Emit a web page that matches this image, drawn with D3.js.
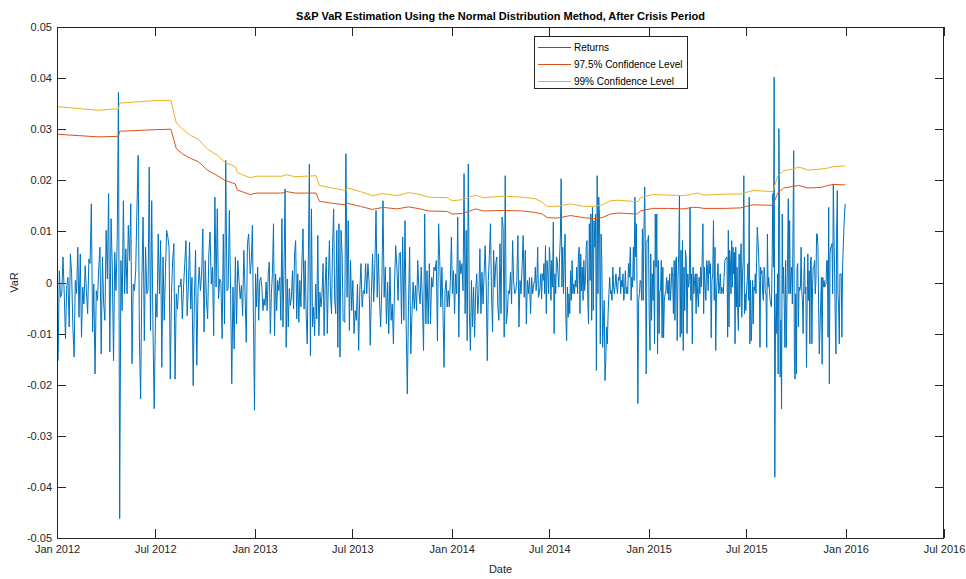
<!DOCTYPE html>
<html>
<head>
<meta charset="utf-8">
<script src="https://cdn.jsdelivr.net/npm/d3@7"></script>
<style>
    body { margin: 0; background: #fff; }
    svg { display: block; font-family: "Liberation Sans", Arial, Helvetica, sans-serif; }
    .tick text { font-size: 11px; fill: #262626; }
    .tick line { stroke: #262626; }
</style>
</head>
<body>
<div id="chart"></div>
<script>
// daily returns in runs; each run is spread over its span of dates
var returnSpans = [
    ['2012-01-03', '2012-06-29'],
    ['2012-07-02', '2012-12-21'],
    ['2012-12-24', '2013-06-14'],
    ['2013-06-17', '2013-12-10'],
    ['2013-12-12', '2014-06-04'],
    ['2014-06-05', '2014-11-26'],
    ['2014-11-28', '2015-05-22'],
    ['2015-05-26', '2015-11-13'],
    ['2015-11-17', '2015-12-31']
];
var returns2012a = [-.0153, .0023, -.0029, -.0022, .0050, -.0022, -.0110, -.0009, .0010, -.0087, .0056, .0017, -.0087, -.0146, .0004, -.0022, .0069, -.0068, .0056, -.0107, -.0009, -.0042, .0033, -.0016, -.0061, .0046, .0037, .0154, -.0097, -.0003, -.0179, -.0016, -.0035, .0030, .0069, -.0140, .0050, -.0042, -.0074, .0102, .0007, .0174, -.0136, .0125, .0030, -.0153, .0059, -.0016, .0082, .0372, -.0462, .0043, -.0055, .0160, -.0022, .0066, -.0022, .0112, .0043, .0154, -.0159, -.0003, -.0016, .0023, .0144, .0249, -.0107, -.0228, .0004, .0128, -.0114, .0069, -.0022, -.0016, .0226, -.0094, .0160, -.0087, -.0247];
var returns2012b = [-.0022, -.0068, .0095, -.0022, .0082, -.0166, .0050, -.0074, .0023, .0102, .0089, .0069, -.0189, -.0022, .0043, .0076, -.0189, -.0022, -.0052, -.0006, -.0009, .0007, -.0071, -.0009, .0037, .0082, -.0065, -.0009, .0079, -.0052, .0010, -.0202, -.0029, .0063, -.0162, -.0016, .0030, -.0016, .0017, .0105, -.0097, .0043, -.0035, -.0071, .0056, .0099, -.0003, .0030, -.0104, .0167, -.0009, .0144, -.0032, .0007, .0001, -.0110, .0095, -.0081, .0239, -.0016, -.0012, .0141, -.0016, -.0198, -.0009, -.0130, .0050, -.0081, .0043, .0004, -.0032, -.0006, -.0065, .0063, -.0019, -.0117, .0076, .0095];
var returns2013a = [.0017, .0043, .0112, -.0074, -.0250, .0017, -.0048, .0030, -.0074, .0004, .0010, -.0009, -.0055, -.0032, -.0045, .0001, -.0055, .0017, .0040, -.0100, -.0022, .0017, .0115, -.0104, .0017, -.0055, .0004, -.0016, .0010, -.0074, .0125, -.0087, .0030, .0183, -.0127, .0007, -.0087, -.0012, -.0045, -.0029, .0023, -.0052, .0056, .0082, -.0071, .0017, -.0078, .0004, -.0048, .0043, .0105, -.0052, .0043, -.0065, -.0120, .0043, .0232, -.0143, .0144, -.0087, -.0048, -.0104, -.0003, -.0071, .0092, -.0104, -.0019, -.0048, -.0022, .0037, -.0104, -.0003, .0050, -.0100, .0004, .0082, -.0022, -.0061, .0069, .0144, -.0035, -.0061, .0102, -.0127, .0115, -.0146, .0102, .0056, -.0074];
var returns2013b = [-.0078, .0252, -.0029, .0121, -.0094, .0043, -.0055, .0004, -.0100, -.0055, -.0074, -.0003, -.0133, -.0016, .0037, -.0048, -.0016, -.0022, .0037, -.0022, .0037, .0001, -.0123, -.0022, .0056, -.0038, .0037, .0141, -.0029, .0056, -.0035, -.0087, -.0009, .0160, -.0029, .0030, -.0081, .0001, -.0100, .0030, -.0074, -.0042, -.0120, .0001, .0072, .0030, -.0035, .0056, .0059, -.0081, .0089, -.0074, .0121, -.0081, -.0218, -.0045, .0069, -.0140, -.0061, .0001, -.0052, -.0006, -.0055, .0043, -.0016, -.0042, .0030, -.0035, -.0133, .0134, -.0081, .0023, -.0081, .0037, -.0081, .0010, -.0009, .0030, .0023, .0043, -.0114, .0115, .0043];
var returns2014a = [-.0048, .0030, -.0055, -.0166, -.0016, .0004, -.0048, -.0016, -.0048, .0004, .0089, -.0022, .0023, -.0061, .0017, -.0022, .0128, -.0107, .0043, .0017, .0037, -.0016, .0213, -.0061, .0102, -.0114, .0232, -.0055, -.0133, .0004, -.0087, -.0009, -.0107, -.0016, .0017, -.0061, -.0022, .0066, -.0061, .0020, -.0042, .0017, .0072, -.0003, -.0153, .0004, .0053, .0115, -.0022, -.0097, .0063, -.0009, .0037, .0050, -.0048, -.0074, .0076, -.0061, .0128, .0108, -.0107, .0209, -.0081, -.0061, -.0016, -.0022, .0020, -.0042, .0082, .0001, -.0022, -.0016, .0004, .0092, -.0087, .0004, -.0022, .0030, .0092, -.0029, .0063, -.0081, .0004, -.0022, .0010, -.0061, .0010, -.0022, -.0003, .0004];
var returns2014b = [.0030, -.0016, .0004, .0069, -.0029, -.0022, -.0009, .0017, -.0032, .0017, .0004, .0037, -.0022, .0072, -.0061, .0043, .0017, -.0022, .0069, .0037, -.0035, .0043, -.0009, .0118, -.0100, .0017, -.0022, .0050, .0043, .0017, -.0009, .0050, .0089, .0203, -.0009, .0069, -.0022, .0050, .0095, -.0068, -.0114, -.0009, -.0068, -.0022, -.0061, .0023, -.0035, .0043, -.0022, -.0003, -.0022, .0004, -.0009, .0030, -.0022, .0050, .0069, -.0061, .0056, -.0016, .0030, -.0035, .0043, -.0016, .0004, .0069, .0082, -.0035, -.0081, .0115, .0004, .0134, -.0074, .0147, -.0055, .0121, .0069, .0134, -.0172, .0209, -.0022, .0167, .0128, -.0120, .0095, .0037, -.0127, -.0074, -.0035, -.0192, -.0153, -.0087, -.0120, -.0061, -.0022, .0010, -.0022, -.0016, -.0035, .0030, -.0009, -.0022, -.0003, .0017, -.0009, -.0022, .0010, .0004, .0030, -.0022, .0004, -.0009, .0017, -.0035, -.0016, .0023, -.0022, -.0009, -.0022, .0037, .0010];
var returns2015a = [.0069, -.0035, .0010, -.0009, .0069, .0004, .0167, .0050, .0115, -.0022, -.0237, -.0035, -.0022, .0004, .0001, -.0035, .0105, -.0035, .0102, .0187, .0043, -.0179, .0082, .0082, .0092, -.0068, -.0133, .0056, -.0074, .0017, -.0035, .0043, -.0120, .0134, .0030, .0134, -.0140, .0043, -.0100, -.0016, -.0016, .0043, -.0108, .0030, -.0108, -.0035, -.0022, -.0016, .0010, -.0022, .0004, -.0035, .0017, -.0035, -.0009, .0030, .0010, -.0061, .0043, -.0074, .0043, .0050, -.0114, .0004, .0059, .0170, -.0107, .0063, -.0100, .0082, -.0133, .0030, -.0055, .0063, .0043, -.0100, .0017, -.0009, .0004, .0147, -.0035, .0017, -.0120, .0030, -.0022, .0004, .0017, -.0061, .0017, -.0022, -.0048, .0010, -.0022, .0030, -.0009, .0043, .0115, -.0061, .0030, -.0009, -.0035, .0043, .0030, -.0016, .0043, .0017, .0037, -.0108, .0004, .0017, .0121, -.0035, .0069, -.0133, -.0022, .0010, .0037, -.0022, -.0009, .0017, -.0022, -.0009, -.0016, -.0022, .0010, .0043];
var returns2015b = [.0050, -.0107, .0102, -.0087, .0063, .0043, -.0022, .0082, -.0009, .0069, .0017, .0059, -.0120, .0069, -.0048, .0030, -.0061, -.0094, .0056, -.0048, .0043, .0076, -.0068, .0010, .0043, .0209, -.0061, -.0022, -.0055, -.0016, .0004, .0037, -.0035, .0167, -.0120, .0004, -.0114, -.0074, .0004, -.0081, -.0009, -.0016, .0017, -.0022, .0043, .0108, .0082, .0056, .0004, -.0127, .0030, .0017, .0023, -.0022, -.0035, .0030, .0017, -.0022, -.0022, -.0127, .0095, -.0009, .0010, -.0016, -.0035, -.0042, -.0048, .0043, .0174, .0030, .0402, -.0381, -.0087, -.0022, -.0100, .0017, -.0179, .0301, .0154, -.0185, -.0074, -.0247, .0134, -.0022, .0030, -.0048, -.0127, .0043, -.0127, -.0042, .0063, .0164, -.0022, .0121, -.0022, .0017, .0030, -.0042, .0102, .0258, -.0140, -.0189, -.0022, -.0179, .0030, .0037, -.0087, -.0009, -.0016, -.0009, .0069, -.0016, -.0035, -.0100, .0004, .0050, -.0022, -.0009, -.0166, -.0048, .0056, -.0035, .0023, -.0120, .0043, .0050, -.0120, -.0009, .0030, .0030, .0043, -.0022, .0004, .0095, .0095, .0069, -.0048, -.0140];
var returns2015c = [.0010, -.0160, .0010, -.0009, .0004, -.0009, -.0003, -.0003, .0043, .0043, -.0107, .0147, -.0198, .0056, .0069, .0069, .0076, -.0022, .0193, .0095, .0017, -.0081, -.0140, .0095, .0180, -.0022, -.0048, -.0120, .0017, .0017, .0017, -.0107, .0030, .0069, .0108, .0134, .0154];
var returnRuns = [returns2012a, returns2012b, returns2013a, returns2013b, returns2014a, returns2014b, returns2015a, returns2015b, returns2015c];

// VaR estimates at the points where the lines bend
var varDates = ['2012-01-03', '2012-03-17', '2012-04-24', '2012-04-26', '2012-07-01', '2012-07-30', '2012-08-09', '2012-08-20', '2012-09-04', '2012-09-18', '2012-10-07', '2012-10-24', '2012-11-07', '2012-11-26', '2012-11-30', '2012-12-24', '2013-01-04', '2013-02-21', '2013-03-01', '2013-03-17', '2013-04-25', '2013-05-01', '2013-05-25', '2013-06-18', '2013-06-22', '2013-07-16', '2013-08-07', '2013-08-27', '2013-09-22', '2013-10-13', '2013-11-04', '2013-11-19', '2013-12-24', '2014-01-02', '2014-01-21', '2014-02-14', '2014-03-01', '2014-04-05', '2014-05-12', '2014-06-05', '2014-06-18', '2014-06-27', '2014-07-16', '2014-08-09', '2014-09-02', '2014-09-21', '2014-10-07', '2014-10-22', '2014-11-06', '2014-12-11', '2014-12-17', '2015-01-08', '2015-02-07', '2015-03-07', '2015-03-23', '2015-04-02', '2015-04-13', '2015-05-23', '2015-06-20', '2015-07-13', '2015-08-19', '2015-08-28', '2015-09-08', '2015-09-25', '2015-10-06', '2015-10-23', '2015-11-16', '2015-11-29', '2015-12-10', '2015-12-28', '2015-12-31'];
var var975 = [.0290, .0285, .0286, .0296, .0299, .0300, .0262, .0252, .0243, .0237, .0219, .0209, .0200, .0193, .0181, .0172, .0175, .0175, .0178, .0175, .0175, .0159, .0155, .0152, .0155, .0149, .0143, .0147, .0144, .0148, .0144, .0140, .0139, .0134, .0135, .0144, .0140, .0141, .0140, .0137, .0134, .0127, .0126, .0131, .0127, .0125, .0127, .0134, .0136, .0134, .0140, .0145, .0145, .0144, .0147, .0147, .0145, .0145, .0146, .0152, .0151, .0175, .0185, .0188, .0190, .0185, .0186, .0190, .0192, .0191, .0192];
var var99 = [.0344, .0337, .0340, .0351, .0356, .0356, .0312, .0301, .0288, .0281, .0260, .0249, .0235, .0227, .0215, .0205, .0208, .0208, .0211, .0207, .0209, .0190, .0185, .0180, .0185, .0178, .0170, .0174, .0170, .0176, .0172, .0167, .0166, .0160, .0162, .0171, .0166, .0169, .0167, .0164, .0157, .0149, .0149, .0154, .0149, .0149, .0152, .0160, .0161, .0158, .0166, .0172, .0171, .0170, .0173, .0175, .0171, .0173, .0173, .0180, .0178, .0209, .0219, .0222, .0226, .0220, .0222, .0224, .0227, .0228, .0228];

var yTicks = [-0.05, -0.04, -0.03, -0.02, -0.01, 0, 0.01, 0.02, 0.03, 0.04, 0.05];
var seriesNames = ['Returns', '97.5% Confidence Level', '99% Confidence Level'];
var seriesColors = ['#0072BD', '#D95319', '#EDB120'];

(function () {
    'use strict';
    var W = 966, H = 579;
    var margin = {top: 27, right: 22, bottom: 41, left: 57},
        width = W - margin.left - margin.right,
        height = H - margin.top - margin.bottom;
    var parse = d3.timeParse('%Y-%m-%d');

    // spread each run of returns evenly over its dates
    var returns = [];
    returnRuns.forEach(function (run, r) {
        var t0 = parse(returnSpans[r][0]).getTime(),
            t1 = parse(returnSpans[r][1]).getTime();
        run.forEach(function (v, i) {
            returns.push({date: new Date(t0 + (t1 - t0) * i / (run.length - 1)), value: v});
        });
    });
    var varLow = varDates.map(function (d, i) { return {date: parse(d), value: var975[i]}; });
    var varHigh = varDates.map(function (d, i) { return {date: parse(d), value: var99[i]}; });

    var svg = d3.select('#chart').append('svg').attr('width', W).attr('height', H);
    var g = svg.append('g').attr('transform', 'translate(' + margin.left + ',' + margin.top + ')');

    var x = d3.scaleTime()
        .domain([new Date(2012, 0, 1), new Date(2016, 6, 1)])
        .range([0, width]);
    var y = d3.scaleLinear()
        .domain([-0.05, 0.05])
        .range([height, 0]);

    var fmtY = function (v) { return String(+v.toFixed(2)); };

    // ticks point inward on all four sides, like a boxed matlab axes
    g.append('g').attr('transform', 'translate(0,' + height + ')')
        .call(d3.axisBottom(x).ticks(d3.timeMonth.every(6)).tickFormat(d3.timeFormat('%b %Y'))
            .tickSizeInner(-9).tickSizeOuter(0).tickPadding(7));
    g.append('g')
        .call(d3.axisTop(x).ticks(d3.timeMonth.every(6)).tickFormat('').tickSizeInner(-9).tickSizeOuter(0));
    g.append('g')
        .call(d3.axisLeft(y).tickValues(yTicks).tickFormat(fmtY).tickSizeInner(-9).tickSizeOuter(0).tickPadding(5));
    g.append('g').attr('transform', 'translate(' + width + ',0)')
        .call(d3.axisRight(y).tickValues(yTicks).tickFormat('').tickSizeInner(-9).tickSizeOuter(0));
    g.selectAll('.domain').remove();
    g.selectAll('.tick line').attr('shape-rendering', 'crispEdges');

    g.append('defs').append('clipPath').attr('id', 'clip')
        .append('rect').attr('width', width).attr('height', height);

    var line = d3.line()
        .x(function (d) { return x(d.date); })
        .y(function (d) { return y(d.value); });

    var plot = g.append('g').attr('clip-path', 'url(#clip)');
    [returns, varLow, varHigh].forEach(function (data, i) {
        plot.append('path')
            .datum(data)
            .attr('fill', 'none')
            .attr('stroke', seriesColors[i])
            .attr('stroke-width', 1)
            .attr('stroke-linejoin', 'round')
            .attr('d', line);
    });

    g.append('rect')
        .attr('x', 0.5).attr('y', 0.5)
        .attr('width', width - 1).attr('height', height)
        .attr('fill', 'none').attr('stroke', '#262626').attr('shape-rendering', 'crispEdges');

    // legend
    var legend = svg.append('g').attr('transform', 'translate(534,36)');
    legend.append('rect')
        .attr('x', 0.5).attr('y', 0.5).attr('width', 153).attr('height', 52)
        .attr('fill', '#fff').attr('stroke', '#262626').attr('shape-rendering', 'crispEdges');
    seriesNames.forEach(function (name, i) {
        var row = legend.append('g').attr('transform', 'translate(0,' + (11.5 + i * 17) + ')');
        row.append('line').attr('x1', 4).attr('x2', 37).attr('stroke', seriesColors[i]);
        row.append('text').attr('x', 40).attr('dy', '0.35em')
            .style('font-size', '10px').attr('fill', '#000').text(name);
    });

    svg.append('text')
        .attr('x', margin.left + width / 2).attr('y', 20)
        .attr('text-anchor', 'middle').style('font-size', '11px').style('font-weight', 'bold')
        .attr('fill', '#000')
        .text('S&P VaR Estimation Using the Normal Distribution Method, After Crisis Period');
    svg.append('text')
        .attr('x', margin.left + width / 2).attr('y', 573)
        .attr('text-anchor', 'middle').style('font-size', '11px').attr('fill', '#262626')
        .text('Date');
    svg.append('text')
        .attr('transform', 'translate(18,' + (margin.top + height / 2) + ') rotate(-90)')
        .attr('text-anchor', 'middle').style('font-size', '11px').attr('fill', '#262626')
        .text('VaR');
})();
</script>
</body>
</html>
